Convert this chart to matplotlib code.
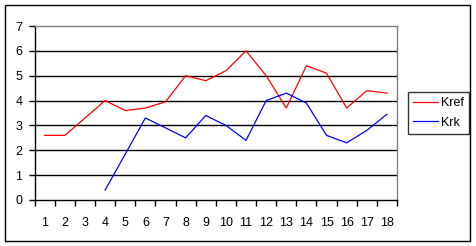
import matplotlib
matplotlib.use("Agg")
import matplotlib.pyplot as plt
from matplotlib.patches import Rectangle
import numpy as np

categories = list(range(1, 19))
kref = [2.6, 2.6, 3.3, 4.0, 3.6, 3.7, 3.95, 5.0, 4.8, 5.2, 6.0, 5.0, 3.7, 5.4, 5.1, 3.7, 4.4, 4.3]
krk_x = list(range(4, 19))
krk = [0.4, 1.85, 3.3, 2.9, 2.5, 3.4, 3.0, 2.4, 4.0, 4.3, 3.9, 2.6, 2.3, 2.8, 3.45]
yticks = [0, 1, 2, 3, 4, 5, 6, 7]

plt.rcParams['font.family'] = ['Liberation Sans', 'DejaVu Sans']

W, H = 476, 246
fig = plt.figure(figsize=(W / 100, H / 100), dpi=100)
fig.patch.set_facecolor('white')

# outer border
fig.patches.append(Rectangle((5 / W, 1 - 241 / H), (470 - 5) / W, (241 - 5) / H,
                             transform=fig.transFigure, fill=False,
                             edgecolor='black', linewidth=1.0))

left, right, top, bottom = 34.7, 397, 26, 200
ax = fig.add_axes([left / W, 1 - bottom / H, (right - left) / W, (bottom - top) / H])

ax.plot(categories, kref, color='#ff0000', linewidth=0.9, label='Kref')
ax.plot(krk_x, krk, color='#0000ff', linewidth=0.9, label='Krk')

ax.set_xlim(0.5, 18.5)
ax.set_ylim(0, 7)
ax.set_yticks(yticks)
ax.set_xticks(categories)
ax.set_xticks(np.arange(0.5, 19.0, 1.0), minor=True)
ax.tick_params(axis='x', which='major', length=0, pad=12, labelsize=9)
ax.tick_params(axis='x', which='minor', length=4, width=1, direction='out', color='black')
ax.tick_params(axis='y', length=4, width=1, direction='out', pad=5, labelsize=9)

for yv in yticks[1:-1]:
    ax.axhline(yv, color='black', linewidth=1.0, zorder=1)

for s in ['top', 'right']:
    ax.spines[s].set_color('#808080')
    ax.spines[s].set_linewidth(1.0)
for s in ['left', 'bottom']:
    ax.spines[s].set_color('black')
    ax.spines[s].set_linewidth(1.0)

leg = fig.legend(loc='upper left', bbox_to_anchor=(408.3 / W, 1 - 92.3 / H),
                 bbox_transform=fig.transFigure, borderaxespad=0,
                 fontsize=9, frameon=True, fancybox=False, edgecolor='black',
                 handlelength=1.95, handletextpad=0.3, labelspacing=0.6,
                 borderpad=0.4)
leg.get_frame().set_linewidth(1.0)

fig.savefig('out.png', dpi=100)
